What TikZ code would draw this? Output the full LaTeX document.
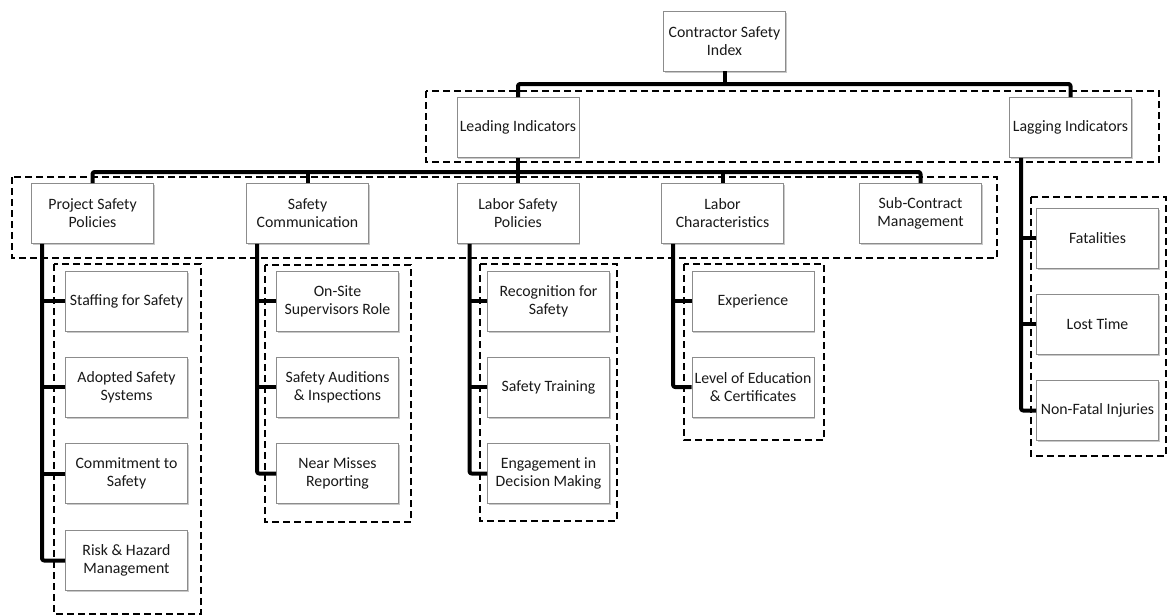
\documentclass[tikz,border=0pt]{standalone}
\usepackage{fontspec}
\setmainfont{Carlito}
\usetikzlibrary{shadows}
\begin{document}
\begin{tikzpicture}[x=1pt,y=-1pt,
  box/.style={draw=black!45, line width=0.8pt, fill=white, minimum width=122pt, minimum height=60pt,
    align=center, inner xsep=0.5pt, inner ysep=2pt, text=black!90, font=\fontsize{15.8}{18}\selectfont,
    drop shadow={shadow xshift=1.2pt, shadow yshift=-1.8pt, opacity=0.35, fill=black!60}},
  conn/.style={line width=4pt, black, line join=round, line cap=butt, rounded corners=2pt},
  grp/.style={line width=1.5pt, black, dash pattern=on 7pt off 4pt}]
\useasboundingbox[fill=white] (0,0) rectangle (1168,616);

% dashed groups
\draw[grp] (426,91) rectangle (1159,162);
\draw[grp] (12,177) rectangle (997,258);
\draw[grp] (54,264) rectangle (201,614);
\draw[grp] (265,265) rectangle (411,522);
\draw[grp] (480,264) rectangle (617,521);
\draw[grp] (684,264) rectangle (824,440);
\draw[grp] (1031,197) rectangle (1166,456);

% level 1 and 2
\node[box] (csi) at (724.5,41) {Contractor Safety\\Index};
\node[box] (li) at (518,127.5) {Leading Indicators};
\node[box] (lag) at (1070.5,127.5) {Lagging Indicators};

% level 3
\node[box] (psp) at (92.5,213.5) {Project Safety\\Policies};
\node[box] (sc) at (307.5,213.5) {Safety\\Communication};
\node[box] (lsp) at (518,213.5) {Labor Safety\\Policies};
\node[box] (lc) at (722.5,213.5) {Labor\\Characteristics};
\node[box] (scm) at (920.5,213.5) {Sub-Contract\\Management};

% level 4
\node[box] (a1) at (126.5,301) {Staffing for Safety};
\node[box] (a2) at (126.5,387) {Adopted Safety\\Systems};
\node[box] (a3) at (126.5,473.5) {Commitment to\\Safety};
\node[box] (a4) at (126.5,560.5) {Risk \& Hazard\\Management};

\node[box] (b1) at (337.5,301) {On-Site\\Supervisors Role};
\node[box] (b2) at (337.5,387) {Safety Auditions\\\& Inspections};
\node[box] (b3) at (337.5,473.5) {Near Misses\\Reporting};

\node[box] (c1) at (548.5,301) {Recognition for\\Safety};
\node[box] (c2) at (548.5,387) {Safety Training};
\node[box] (c3) at (548.5,473.5) {Engagement in\\Decision Making};

\node[box] (d1) at (753,301) {Experience};
\node[box] (d2) at (753,387) {Level of Education\\\& Certificates};

\node[box] (e1) at (1097.5,238) {Fatalities};
\node[box] (e2) at (1097.5,324) {Lost Time};
\node[box] (e3) at (1097.5,410.5) {Non-Fatal Injuries};

% connectors level 1 -> 2
\coordinate (bar1) at (724.5,84);
\draw[conn] (li.north) |- (bar1) -| (lag.north);
\draw[conn] (csi.south) -- (bar1);

% level 2 -> 3
\coordinate (bar2) at (518,172);
\draw[conn] (psp.north) |- (bar2) -| (scm.north);
\draw[conn] (li.south) -- (lsp.north);
\draw[conn] (sc.north) -- (sc.north |- bar2);
\draw[conn] (lc.north) -- (lc.north |- bar2);

% trunks
\coordinate (t1) at ([xshift=11pt]psp.south west);
\draw[conn] (t1) |- (a4.west);
\draw[conn] (t1 |- a1.west) -- (a1.west);
\draw[conn] (t1 |- a2.west) -- (a2.west);
\draw[conn] (t1 |- a3.west) -- (a3.west);

\coordinate (t2) at ([xshift=11pt]sc.south west);
\draw[conn] (t2) |- (b3.west);
\draw[conn] (t2 |- b1.west) -- (b1.west);
\draw[conn] (t2 |- b2.west) -- (b2.west);

\coordinate (t3) at ([xshift=13pt]lsp.south west);
\draw[conn] (t3) |- (c3.west);
\draw[conn] (t3 |- c1.west) -- (c1.west);
\draw[conn] (t3 |- c2.west) -- (c2.west);

\coordinate (t4) at ([xshift=12pt]lc.south west);
\draw[conn] (t4) |- (d2.west);
\draw[conn] (t4 |- d1.west) -- (d1.west);

\coordinate (t5) at ([xshift=12pt]lag.south west);
\draw[conn] (t5) |- (e3.west);
\draw[conn] (t5 |- e1.west) -- (e1.west);
\draw[conn] (t5 |- e2.west) -- (e2.west);
\end{tikzpicture}
\end{document}
